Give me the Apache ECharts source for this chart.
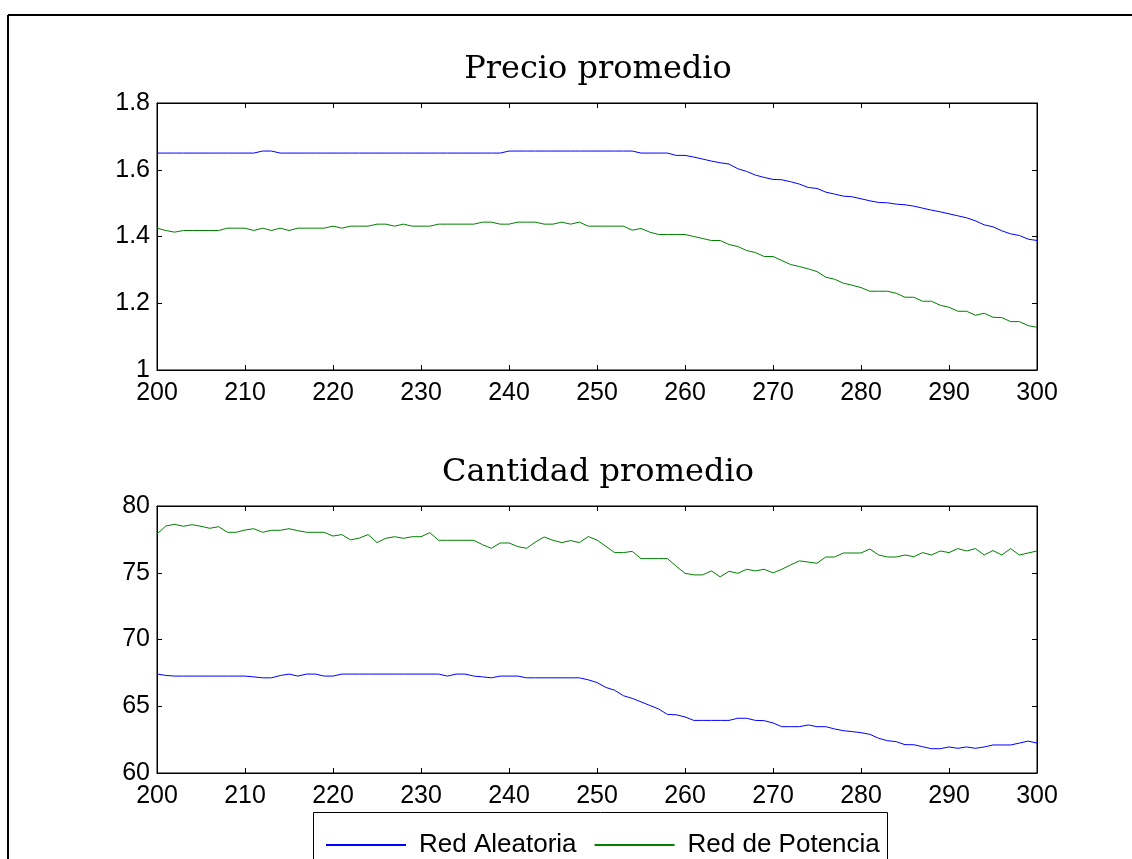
<!DOCTYPE html>
<html>
<head>
<meta charset="utf-8">
<script src="https://cdn.jsdelivr.net/npm/echarts/dist/echarts.min.js"></script>
<style>
    html, body { margin: 0; padding: 0; background: #fff; }
    #chart { width: 1132px; height: 859px; }
</style>
</head>
<body>
<div id="chart"></div>
<script>
// precio / cantidad promedio, t = 200..300
const xs = [];
for (let t = 200; t <= 300; t++) xs.push(t);

const seriesNames = ['Red Aleatoria', 'Red de Potencia'];
const precioTicks = [1, 1.2, 1.4, 1.6, 1.8];
const cantidadTicks = [60, 65, 70, 75, 80];

const precioAleatoria = [
    1.650, 1.650, 1.650, 1.650, 1.650, 1.650, 1.650, 1.650, 1.650, 1.650,
    1.650, 1.650, 1.656, 1.656, 1.650, 1.650, 1.650, 1.650, 1.650, 1.650,
    1.650, 1.650, 1.650, 1.650, 1.650, 1.650, 1.650, 1.650, 1.650, 1.650,
    1.650, 1.650, 1.650, 1.650, 1.650, 1.650, 1.650, 1.650, 1.650, 1.650,
    1.656, 1.656, 1.656, 1.656, 1.656, 1.656, 1.656, 1.656, 1.656, 1.656,
    1.656, 1.656, 1.656, 1.656, 1.656, 1.650, 1.650, 1.650, 1.650, 1.643,
    1.643, 1.638, 1.632, 1.626, 1.621, 1.617, 1.603, 1.595, 1.584, 1.577,
    1.571, 1.570, 1.564, 1.557, 1.547, 1.544, 1.533, 1.527, 1.521, 1.519,
    1.513, 1.507, 1.502, 1.501, 1.497, 1.495, 1.491, 1.485, 1.479, 1.474,
    1.468, 1.462, 1.456, 1.447, 1.435, 1.429, 1.417, 1.408, 1.403, 1.392,
    1.388
];
const precioPotencia = [
    1.425, 1.418, 1.413, 1.418, 1.418, 1.418, 1.418, 1.418, 1.425, 1.425,
    1.425, 1.418, 1.425, 1.418, 1.425, 1.418, 1.425, 1.425, 1.425, 1.425,
    1.431, 1.425, 1.431, 1.431, 1.431, 1.437, 1.437, 1.431, 1.437, 1.431,
    1.431, 1.431, 1.437, 1.437, 1.437, 1.437, 1.437, 1.443, 1.443, 1.437,
    1.437, 1.443, 1.443, 1.443, 1.437, 1.437, 1.443, 1.437, 1.443, 1.431,
    1.431, 1.431, 1.431, 1.431, 1.419, 1.424, 1.413, 1.406, 1.406, 1.406,
    1.406, 1.400, 1.394, 1.388, 1.388, 1.376, 1.370, 1.358, 1.352, 1.340,
    1.340, 1.328, 1.316, 1.310, 1.303, 1.295, 1.278, 1.272, 1.260, 1.254,
    1.247, 1.236, 1.236, 1.236, 1.230, 1.218, 1.218, 1.206, 1.206, 1.194,
    1.188, 1.176, 1.176, 1.164, 1.170, 1.158, 1.157, 1.145, 1.145, 1.133,
    1.128
];
const cantidadAleatoria = [
    67.41, 67.31, 67.26, 67.26, 67.26, 67.26, 67.26, 67.26, 67.26, 67.26,
    67.26, 67.20, 67.13, 67.13, 67.30, 67.41, 67.26, 67.41, 67.41, 67.26,
    67.26, 67.41, 67.41, 67.41, 67.41, 67.41, 67.41, 67.41, 67.41, 67.41,
    67.41, 67.41, 67.41, 67.26, 67.41, 67.41, 67.26, 67.20, 67.13, 67.26,
    67.26, 67.26, 67.13, 67.13, 67.13, 67.13, 67.13, 67.13, 67.13, 66.98,
    66.78, 66.41, 66.20, 65.79, 65.59, 65.33, 65.06, 64.80, 64.39, 64.36,
    64.20, 63.94, 63.94, 63.94, 63.94, 63.94, 64.10, 64.10, 63.94, 63.92,
    63.75, 63.47, 63.47, 63.47, 63.60, 63.47, 63.47, 63.30, 63.17, 63.10,
    63.02, 62.90, 62.60, 62.42, 62.35, 62.12, 62.12, 61.97, 61.82, 61.82,
    61.95, 61.85, 61.95, 61.85, 61.95, 62.10, 62.10, 62.10, 62.24, 62.39,
    62.24
];
const cantidadPotencia = [
    77.90, 78.50, 78.63, 78.48, 78.60, 78.48, 78.33, 78.45, 78.03, 78.03,
    78.20, 78.30, 78.03, 78.18, 78.18, 78.30, 78.15, 78.03, 78.03, 78.03,
    77.75, 77.86, 77.46, 77.60, 77.86, 77.26, 77.58, 77.70, 77.58, 77.70,
    77.70, 78.00, 77.43, 77.43, 77.43, 77.43, 77.43, 77.10, 76.83, 77.23,
    77.23, 76.96, 76.83, 77.30, 77.68, 77.43, 77.26, 77.41, 77.26, 77.71,
    77.45, 76.98, 76.51, 76.51, 76.60, 76.06, 76.06, 76.06, 76.06, 75.49,
    74.96, 74.84, 74.84, 75.14, 74.69, 75.11, 74.96, 75.26, 75.14, 75.26,
    74.99, 75.26, 75.59, 75.89, 75.80, 75.71, 76.18, 76.18, 76.48, 76.48,
    76.48, 76.78, 76.33, 76.18, 76.18, 76.33, 76.20, 76.51, 76.33, 76.63,
    76.51, 76.81, 76.63, 76.81, 76.33, 76.66, 76.33, 76.81, 76.33, 76.48,
    76.63
];

const pairs = (ys) => xs.map((x, i) => [x, ys[i]]);
// quita los errores de coma flotante en las etiquetas (1.7999999 -> 1.8)
const tickLabel = (v) => String(Math.round(v * 1000) / 1000);

const axisFont = { fontFamily: 'Liberation Sans', fontSize: 25, color: '#000' };
const titleFont = { fontFamily: 'DejaVu Serif', fontSize: 32, fontWeight: 'normal', color: '#000' };

function xAxisFor(gridIndex, position) {
    return {
        type: 'value',
        gridIndex: gridIndex,
        position: position,
        min: 200,
        max: 300,
        interval: 10,
        axisLine: { show: true, onZero: false, lineStyle: { color: '#000', width: 1 } },
        axisTick: { show: true, inside: true, length: 5, lineStyle: { color: '#000' } },
        axisLabel: Object.assign({ show: position === 'bottom', margin: 11, formatter: tickLabel }, axisFont),
        splitLine: { show: false },
    };
}

function yAxisFor(gridIndex, position, ticks) {
    return {
        type: 'value',
        gridIndex: gridIndex,
        position: position,
        min: ticks[0],
        max: ticks[ticks.length - 1],
        interval: ticks[1] - ticks[0],
        axisLine: { show: true, onZero: false, lineStyle: { color: '#000', width: 1 } },
        axisTick: { show: true, inside: true, length: 5, lineStyle: { color: '#000' } },
        axisLabel: Object.assign({ show: position === 'left', margin: 7, formatter: tickLabel }, axisFont),
        splitLine: { show: false },
    };
}

function lineSeries(name, xIdx, yIdx, data, color) {
    return {
        name: name,
        type: 'line',
        xAxisIndex: xIdx,
        yAxisIndex: yIdx,
        data: pairs(data),
        symbol: 'none',
        lineStyle: { color: color, width: 1 },
        itemStyle: { color: color },
    };
}

const chart = echarts.init(document.getElementById('chart'));
const option = {
    animation: false,
    backgroundColor: '#fff',
    title: [
        { text: 'Precio promedio', left: 593, textAlign: 'center', top: 49, textStyle: titleFont },
        { text: 'Cantidad promedio', left: 593, textAlign: 'center', top: 452, textStyle: titleFont },
    ],
    grid: [
        { left: 157, top: 103, width: 880, height: 267, show: true, borderColor: '#000', borderWidth: 1, outerBoundsMode: 'none', containLabel: false },
        { left: 157, top: 506, width: 880, height: 267, show: true, borderColor: '#000', borderWidth: 1, outerBoundsMode: 'none', containLabel: false },
    ],
    xAxis: [
        xAxisFor(0, 'bottom'),
        xAxisFor(0, 'top'),
        xAxisFor(1, 'bottom'),
        xAxisFor(1, 'top'),
    ],
    yAxis: [
        yAxisFor(0, 'left', precioTicks),
        yAxisFor(0, 'right', precioTicks),
        yAxisFor(1, 'left', cantidadTicks),
        yAxisFor(1, 'right', cantidadTicks),
    ],
    legend: {
        data: seriesNames,
        left: 325,
        top: 832,
        padding: 0,
        itemWidth: 80,
        itemHeight: 14,
        itemGap: 17,
        itemStyle: { opacity: 0, borderWidth: 0 },
        textStyle: { fontFamily: 'Liberation Sans', fontSize: 26, color: '#000', padding: [0, 0, 0, 8] },
    },
    graphic: [
        // marco exterior
        { type: 'line', shape: { x1: 8, y1: 15, x2: 1132, y2: 15 }, style: { stroke: '#000', lineWidth: 2 } },
        { type: 'line', shape: { x1: 8, y1: 15, x2: 8, y2: 859 }, style: { stroke: '#000', lineWidth: 2 } },
        // caja de la leyenda
        { type: 'rect', shape: { x: 313.5, y: 812.5, width: 574, height: 60 }, style: { fill: '#fff', stroke: '#000', lineWidth: 1 } },
    ],
    series: [
        lineSeries(seriesNames[0], 0, 0, precioAleatoria, '#0000ff'),
        lineSeries(seriesNames[1], 0, 0, precioPotencia, '#008000'),
        lineSeries(seriesNames[0], 2, 2, cantidadAleatoria, '#0000ff'),
        lineSeries(seriesNames[1], 2, 2, cantidadPotencia, '#008000'),
    ],
};
chart.setOption(option);
</script>
</body>
</html>
